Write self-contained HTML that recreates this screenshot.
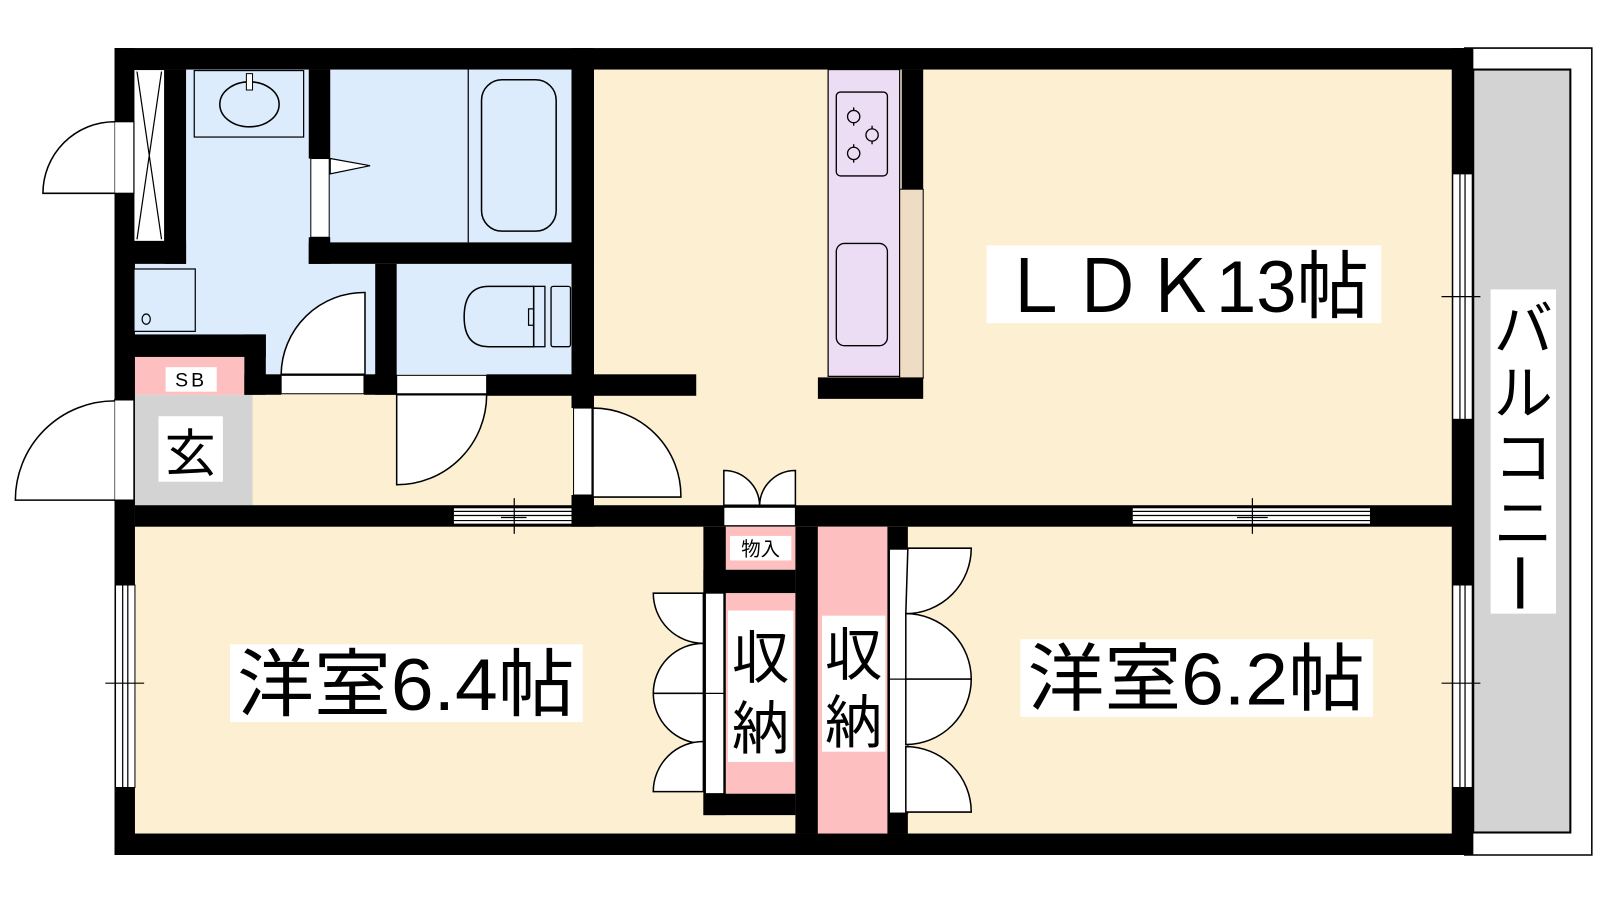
<!DOCTYPE html>
<html><head><meta charset="utf-8"><style>
html,body{margin:0;padding:0;background:#fff;width:1600px;height:900px;overflow:hidden}
svg{display:block}
text{font-family:"Liberation Sans","Noto Sans CJK JP",sans-serif;fill:#000}
</style></head><body>
<svg width="1600" height="900" viewBox="0 0 1565 880" preserveAspectRatio="none" xmlns="http://www.w3.org/2000/svg">
<rect width="1565" height="880" fill="#fff"/>
<!-- balcony -->
<rect x="1441" y="68" width="95" height="746" fill="#d3d3d3" stroke="#000" stroke-width="2"/>
<path d="M1432 47 H1557 V836 H1432" fill="none" stroke="#000" stroke-width="1.5"/>
<rect x="1458" y="283" width="64" height="317" fill="#fff"/>
<text x="1490" y="342" font-size="58" text-anchor="middle">バ</text>
<text x="1490" y="405" font-size="58" text-anchor="middle">ル</text>
<text x="1490" y="468" font-size="58" text-anchor="middle">コ</text>
<text x="1490" y="532" font-size="58" text-anchor="middle">ニ</text>
<rect x="1484" y="545" width="6" height="50" fill="#000"/>

<!-- floors -->
<rect x="131" y="68" width="1290" height="748" fill="#fdf0d2"/>
<rect x="182" y="68" width="377" height="190" fill="#dcecfd"/>
<rect x="131" y="258" width="428" height="108" fill="#dcecfd"/>
<rect x="131" y="386" width="116" height="108" fill="#d3d3d3"/>
<rect x="131" y="349" width="108" height="37" fill="#fdbfbf"/>

<!-- outer walls -->
<rect x="112" y="47" width="1329" height="21" fill="#000"/>
<rect x="112" y="815" width="1329" height="21" fill="#000"/>
<rect x="112" y="47" width="20" height="789" fill="#000"/>
<rect x="1420" y="47" width="21" height="789" fill="#000"/>

<!-- left top closet/window strip -->
<rect x="131" y="68" width="30" height="168" fill="#fff" stroke="#000" stroke-width="1"/>
<path d="M134 70 L158 234 M158 70 L134 234" stroke="#000" stroke-width="1.2"/>
<rect x="161" y="68" width="21" height="190" fill="#000"/>
<rect x="131" y="236" width="51" height="22" fill="#000"/>
<!-- left small door -->
<rect x="112" y="119" width="19" height="70" fill="#fff" stroke="#000" stroke-width="1.2"/>
<path d="M112 119 A70 70 0 0 0 42 189 H112" fill="#fff" stroke="#000" stroke-width="1.5"/>

<!-- sink -->
<rect x="190" y="69" width="107" height="65" fill="#dcecfd" stroke="#000" stroke-width="1.2"/>
<ellipse cx="244" cy="102" rx="29" ry="22" fill="none" stroke="#000" stroke-width="1.5"/>
<rect x="241" y="72" width="6" height="16" fill="#fff" stroke="#000" stroke-width="1"/>
<!-- washer -->
<rect x="131" y="263" width="60" height="61" fill="#dcecfd" stroke="#000" stroke-width="1.2"/>
<ellipse cx="143" cy="312" rx="4" ry="5" fill="none" stroke="#000" stroke-width="1.2"/>

<!-- bath wall & door -->
<rect x="302" y="68" width="21" height="87" fill="#000"/>
<rect x="304" y="155" width="18" height="77" fill="#fff" stroke="#000" stroke-width="1"/>
<path d="M323 155 L362 162 L323 170 Z" fill="#fff" stroke="#000" stroke-width="1.2"/>
<rect x="302" y="232" width="21" height="26" fill="#000"/>
<rect x="302" y="237" width="279" height="21" fill="#000"/>
<line x1="458" y1="68" x2="458" y2="237" stroke="#000" stroke-width="1.2"/>
<rect x="471" y="78" width="73" height="148" rx="20" fill="none" stroke="#000" stroke-width="1.5"/>

<!-- toilet -->
<rect x="367" y="258" width="21" height="128" fill="#000"/>
<path d="M522 280 H478 Q454 280 454 310 Q454 339 478 339 H522 Z" fill="none" stroke="#000" stroke-width="1.5"/>
<rect x="522" y="280" width="11" height="59" fill="none" stroke="#000" stroke-width="1.3"/>
<path d="M522 302 H517 V318 H522" fill="none" stroke="#000" stroke-width="1.2"/>
<rect x="539" y="280" width="19" height="59" rx="2" fill="none" stroke="#000" stroke-width="1.3"/>

<!-- SB walls -->
<rect x="131" y="327" width="129" height="22" fill="#000"/>
<rect x="239" y="327" width="21" height="59" fill="#000"/>
<rect x="162" y="359" width="50" height="24" fill="#fff"/>
<text x="187" y="378" font-size="19" text-anchor="middle" letter-spacing="3">SB</text>

<!-- row walls y 366-386 -->
<rect x="239" y="366" width="36" height="20" fill="#000"/>
<rect x="275" y="367" width="81" height="18" fill="#fff" stroke="#000" stroke-width="1"/>
<path d="M357 286 V366 H275 A81 81 0 0 1 357 286 Z" fill="#fff" stroke="#000" stroke-width="1.5"/>
<rect x="356" y="366" width="32" height="20" fill="#000"/>
<rect x="388" y="367" width="88" height="18" fill="#fff" stroke="#000" stroke-width="1"/>
<path d="M388 386 H476 A88 88 0 0 1 388 474 Z" fill="#fff" stroke="#000" stroke-width="1.5"/>
<rect x="476" y="366" width="205" height="21" fill="#000"/>

<!-- wall x 559-581 -->
<rect x="559" y="47" width="22" height="352" fill="#000"/>
<rect x="559" y="484" width="22" height="31" fill="#000"/>
<rect x="561" y="399" width="18" height="85" fill="#fff" stroke="#000" stroke-width="1"/>
<path d="M580 399 A86 86 0 0 1 666 486 H580 Z" fill="#fff" stroke="#000" stroke-width="1.5"/>

<!-- genkan -->
<rect x="155" y="407" width="63" height="64" fill="#fff"/>
<text x="186" y="461" font-size="50" text-anchor="middle">玄</text>
<rect x="112" y="391" width="19" height="98" fill="#fff" stroke="#000" stroke-width="1.2"/>
<path d="M112 392 A97 97 0 0 0 15 489 H112" fill="#fff" stroke="#000" stroke-width="1.5"/>

<!-- kitchen -->
<rect x="810" y="68" width="70" height="300" fill="#ecdcf4" stroke="#000" stroke-width="1.2"/>
<rect x="880" y="185" width="23" height="185" fill="#eedcc4" stroke="#000" stroke-width="1"/>
<rect x="882" y="68" width="21" height="117" fill="#000"/>
<rect x="800" y="369" width="103" height="21" fill="#000"/>
<rect x="818" y="90" width="50" height="82" rx="4" fill="none" stroke="#000" stroke-width="1.3"/>
<g fill="none" stroke="#000" stroke-width="1.3">
<circle cx="835" cy="114" r="6"/><circle cx="853" cy="132" r="6"/><circle cx="835" cy="150" r="6"/>
<path d="M835 105v3M835 120v3M853 123v3M853 138v3M835 141v3M835 156v3"/>
</g>
<rect x="818" y="238" width="50" height="100" rx="8" fill="none" stroke="#000" stroke-width="1.3"/>

<!-- LDK label -->
<rect x="965" y="240" width="386" height="76" fill="#fff"/>
<text x="1158" y="305" font-size="72" text-anchor="middle" textLength="362" lengthAdjust="spacingAndGlyphs">ＬＤＫ13帖</text>

<!-- right windows -->
<g>
<rect x="1421" y="170" width="19" height="240" fill="#fff" stroke="#000" stroke-width="1"/>
<path d="M1428 170V410M1433 170V410M1410 290H1448M1428 282V300M1433 283V305" stroke="#000" stroke-width="1.2"/>
<rect x="1421" y="572" width="19" height="198" fill="#fff" stroke="#000" stroke-width="1"/>
<path d="M1428 572V770M1433 572V770M1410 668H1448M1428 660V680M1433 662V685" stroke="#000" stroke-width="1.2"/>
</g>
<!-- left bedroom window -->
<rect x="113" y="572" width="19" height="198" fill="#fff" stroke="#000" stroke-width="1"/>
<path d="M120 572V770M125 572V770M103 668H141M120 660V680M125 662V685" stroke="#000" stroke-width="1.2"/>

<!-- middle horizontal wall y 494-515 -->
<rect x="132" y="494" width="1289" height="21" fill="#000"/>
<rect x="444" y="497" width="115" height="15" fill="#fff"/>
<path d="M444 500H559M444 504H559M444 509H559M503 487V522M490 506H515" stroke="#000" stroke-width="1.2"/>
<rect x="1108" y="497" width="232" height="15" fill="#fff"/>
<path d="M1108 500H1340M1108 504H1340M1108 509H1340M1225 487V522M1210 506H1240" stroke="#000" stroke-width="1.2"/>

<!-- 物入 doors -->
<rect x="708" y="496" width="70" height="18" fill="#fff" stroke="#000" stroke-width="1"/>
<path d="M708 494V460A35 35 0 0 1 743 494Z M778 494V460A35 35 0 0 0 743 494Z" fill="#fff" stroke="#000" stroke-width="1.5"/>

<!-- closets -->
<rect x="688" y="515" width="22" height="282" fill="#000"/>
<rect x="688" y="557" width="90" height="23" fill="#000"/>
<rect x="688" y="776" width="90" height="21" fill="#000"/>
<rect x="710" y="515" width="68" height="42" fill="#fdbfbf"/>
<rect x="710" y="580" width="68" height="196" fill="#fdbfbf"/>
<rect x="778" y="515" width="22" height="300" fill="#000"/>
<rect x="800" y="515" width="68" height="300" fill="#fdbfbf"/>
<rect x="868" y="515" width="20" height="300" fill="#000"/>
<rect x="870" y="537" width="18" height="258" fill="#fff" stroke="#000" stroke-width="1"/>
<line x1="870" y1="664" x2="888" y2="664" stroke="#000" stroke-width="1.2"/>
<rect x="690" y="580" width="18" height="196" fill="#fff" stroke="#000" stroke-width="1"/>
<line x1="690" y1="678" x2="708" y2="678" stroke="#000" stroke-width="1.2"/>

<g fill="#fff" stroke="#000" stroke-width="1.5">
<path d="M688 580H639A49 49 0 0 0 688 629Z"/>
<path d="M688 629A49 49 0 0 0 639 678H688Z"/>
<path d="M688 727A49 49 0 0 1 639 678H688Z"/>
<path d="M688 725A49 49 0 0 0 639 774H688Z"/>
<path d="M888 536H950A64 64 0 0 1 886 600Z"/>
<path d="M886 600A64 64 0 0 1 950 664H886Z"/>
<path d="M886 728A64 64 0 0 0 950 664H886Z"/>
<path d="M886 730A64 64 0 0 1 950 794H886Z"/>
</g>

<rect x="714" y="524" width="60" height="24" fill="#fff"/>
<text x="744" y="543" font-size="19" text-anchor="middle">物入</text>
<rect x="712" y="597" width="64" height="148" fill="#fff"/>
<text x="744" y="663" font-size="56" text-anchor="middle">収</text>
<text x="744" y="732" font-size="56" text-anchor="middle">納</text>
<rect x="804" y="602" width="62" height="133" fill="#fff"/>
<text x="835" y="660" font-size="56" text-anchor="middle">収</text>
<text x="835" y="726" font-size="56" text-anchor="middle">納</text>

<!-- bedroom labels -->
<rect x="225" y="630" width="345" height="76" fill="#fff"/>
<text x="397" y="694" font-size="72" text-anchor="middle" textLength="330" lengthAdjust="spacingAndGlyphs">洋室6.4帖</text>
<rect x="998" y="625" width="345" height="76" fill="#fff"/>
<text x="1170" y="689" font-size="72" text-anchor="middle" textLength="330" lengthAdjust="spacingAndGlyphs">洋室6.2帖</text>
</svg>
</body></html>
